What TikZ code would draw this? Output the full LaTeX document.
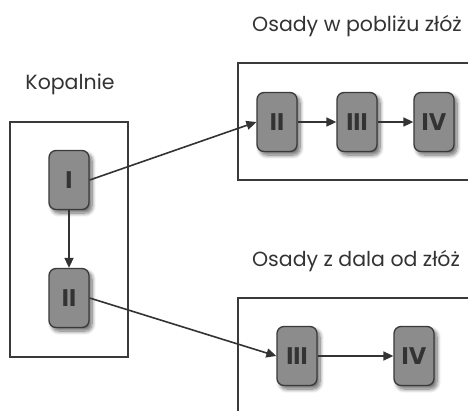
\documentclass[tikz,border=0pt]{standalone}
\usepackage{fontspec}
\setmainfont{Poppins}
\newfontfamily\boldpop{Poppins Bold}
\usetikzlibrary{arrows.meta,shadows.blur}
\definecolor{boxfill}{HTML}{8C8C8C}
\definecolor{boxline}{HTML}{3A3A3A}
\definecolor{txt}{HTML}{333333}
\tikzset{
  stage/.style={draw=boxline, line width=1.3pt, fill=boxfill, rounded corners=7pt,
    minimum width=40pt, minimum height=59pt, inner sep=0pt,
    font=\boldpop\fontsize{24}{24}\selectfont, text=txt,
    blur shadow={shadow xshift=3pt, shadow yshift=-3.5pt, shadow blur steps=8, shadow blur radius=4pt, shadow opacity=60}},
  group/.style={draw=boxline, line width=1.6pt},
  conn/.style={draw=txt, line width=1.6pt, -{Triangle[length=10pt,width=9pt]}},
  title/.style={font=\fontsize{20.5}{21}\selectfont, text=txt, inner sep=0pt}
}
\begin{document}
\begin{tikzpicture}[x=1pt,y=-1pt]
\useasboundingbox (0,0) rectangle (468,410);
% group frames
\draw[group] (10,122) rectangle (128,357);
\draw[group] (470,63) -- (238,63) -- (238,180) -- (470,180);
\draw[group] (470,298) -- (238,298) -- (238,412);
% titles
\node[title] (tk) at (70,84) {Kopalnie};
\node[title] (tp) at (357,26) {Osady w pobliżu złóż};
\node[title] (td) at (356,261) {Osady z dala od złóż};
% stages
\node[stage] (m1) at (69,180) {I};
\node[stage] (m2) at (69,298) {II};
\node[stage] (a2) at (277,122) {II};
\node[stage] (a3) at (357,122) {III};
\node[stage] (a4) at (434,122) {IV};
\node[stage] (b3) at (297,356) {III};
\node[stage] (b4) at (414,356) {IV};
% connectors
\draw[conn] (m1) -- (m2);
\draw[conn] (m1.east) -- (a2.west);
\draw[conn] (m2.east) -- (b3.west);
\draw[conn] (a2) -- (a3);
\draw[conn] (a3) -- (a4);
\draw[conn] (b3) -- (b4);
\end{tikzpicture}
\end{document}
